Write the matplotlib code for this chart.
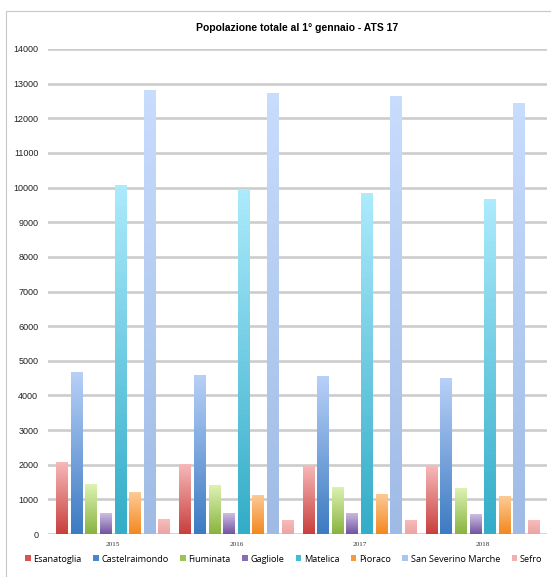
import numpy as np
import matplotlib.pyplot as plt
from matplotlib.colors import LinearSegmentedColormap
from matplotlib.patches import Rectangle, Patch

# Popolazione al 1 gennaio, comuni ATS 17
years = ['2015', '2016', '2017', '2018']
comuni = ['Esanatoglia', 'Castelraimondo', 'Fiuminata', 'Gagliole',
          'Matelica', 'Pioraco', 'San Severino Marche', 'Sefro']

esanatoglia = [2070, 2010, 1985, 1955]
castelraimondo = [4690, 4600, 4550, 4500]
fiuminata = [1440, 1405, 1360, 1320]
gagliole = [600, 600, 620, 570]
matelica = [10075, 9970, 9855, 9665]
pioraco = [1205, 1130, 1160, 1090]
san_severino = [12805, 12720, 12635, 12435]
sefro = [420, 410, 410, 400]

series = [esanatoglia, castelraimondo, fiuminata, gagliole,
          matelica, pioraco, san_severino, sefro]

# (top colour, bottom colour, legend colour)
colours = [
    ('#f6b8b7', '#c8403e', '#d9534f'),
    ('#b7d0f7', '#3d7bc2', '#4a86cc'),
    ('#ddf2b2', '#89b340', '#9bc455'),
    ('#cdbde3', '#7254a0', '#8a6bb5'),
    ('#aceafc', '#33adc8', '#45bcd6'),
    ('#fdcb96', '#f38820', '#f79a3c'),
    ('#c8dcfd', '#9fbbe5', '#a9c4ee'),
    ('#f8bcbc', '#eca3a3', '#f2afaf'),
]

fig = plt.figure(figsize=(5.51, 5.77), dpi=100)
ax = fig.add_axes([48 / 551, 43 / 577, 499 / 551, 485 / 577])

x = np.arange(len(years))
pitch = 0.1184
width = 0.097
offsets = (np.arange(len(comuni)) - (len(comuni) - 1) / 2) * pitch

for vals, off, (top, bot, _) in zip(series, offsets, colours):
    cmap = LinearSegmentedColormap.from_list('g', [bot, top])
    bars = ax.bar(x + off, vals, width, color='none', edgecolor='none', zorder=3)
    for b in bars:
        x0, h = b.get_x(), b.get_height()
        grad = np.linspace(0, 1, 64).reshape(-1, 1)
        im = ax.imshow(grad, cmap=cmap, origin='lower', aspect='auto',
                       extent=(x0, x0 + b.get_width(), 0, h), zorder=3)
        im.set_clip_path(b)

ax.set_xlim(-0.53, 3.52)
ax.set_ylim(0, 14000)
ax.set_yticks(np.arange(0, 14001, 1000))
ax.set_xticks(x)
ax.set_xticklabels(years, fontsize=5.2, family='Liberation Serif', color='#333333')
ax.tick_params(axis='y', length=0, pad=7, labelsize=6.5, labelcolor='#222222')
ax.tick_params(axis='x', length=0, pad=6)
for lab in ax.get_yticklabels():
    lab.set_family('Liberation Sans')
ax.grid(axis='y', color='#cccccc', linewidth=1.9, zorder=0)
for s in ax.spines.values():
    s.set_visible(False)

ax.set_title('Popolazione totale al 1° gennaio - ATS 17', fontsize=7.5,
             fontweight='bold', family='Liberation Sans', pad=13)

handles = [Patch(facecolor=c[2], edgecolor='none') for c in colours]
fig.legend(handles, comuni, loc='center', bbox_to_anchor=(0.515, 18 / 577),
           ncol=8, frameon=False, handlelength=0.6,
           handleheight=0.6, handletextpad=0.3, columnspacing=1.25,
           prop={'family': 'Open Sans', 'size': 6.6})

# outer frame of the original image
fig.add_artist(Rectangle((6 / 551, -0.1), 1.2, 1.1 - 11 / 577,
                         transform=fig.transFigure, fill=False,
                         edgecolor='#c8c8c8', linewidth=0.8, clip_on=False))

fig.savefig('out.png', dpi=100)
